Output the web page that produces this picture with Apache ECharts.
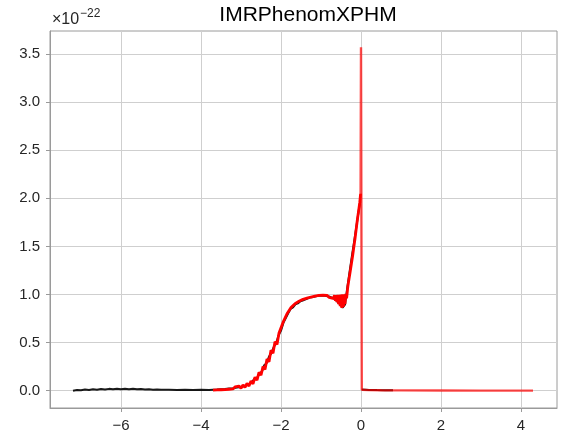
<!DOCTYPE html>
<html>
<head>
<meta charset="utf-8">
<script src="https://cdn.jsdelivr.net/npm/echarts@6/dist/echarts.min.js"></script>
<style>html,body{margin:0;padding:0;background:#fff}#c{width:568px;height:439px}</style>
</head>
<body>
<div id="c"></div>
<script>
var titleText = 'IMRPhenomXPHM';
var offsetBase = '\u00d710';
var offsetExp = '\u221222';
var xTicks = [-6, -4, -2, 0, 2, 4];
var yTicks = [0, 0.5, 1.0, 1.5, 2.0, 2.5, 3.0, 3.5];

// black waveform amplitude (×1e-22)
var blackT = [-7.20,-7.10,-7.00,-6.90,-6.80,-6.70,-6.60,-6.50,-6.40,-6.30,-6.20,-6.10,-6.00,-5.90,-5.80,-5.70,-5.60,-5.50,-5.40,-5.30,-5.20,-5.10,-5.00,-4.80,-4.60,-4.40,-4.20,-4.00,-3.80,
  -3.60,-3.50,-3.40,-3.30,-3.20,-3.10,-3.00,-2.90,-2.80,-2.72,-2.66,-2.60,-2.54,-2.48,-2.42,-2.36,-2.30,-2.24,-2.18,-2.12,-2.06,-2.00,-1.94,-1.88,-1.82,-1.76,-1.70,-1.64,-1.58,-1.52,-1.46,-1.40,-1.34,-1.28,-1.20,-1.10,-1.00,-0.90,-0.80,-0.70,-0.60,-0.52,-0.46,-0.40,-0.34,-0.28,-0.22,-0.16,-0.10,-0.05,-0.02,
  0.00, 0.02, 0.20, 0.40, 0.60, 0.80];
var blackV = [0.000,0.008,0.004,0.012,0.008,0.015,0.010,0.017,0.012,0.019,0.014,0.020,0.016,0.021,0.016,0.020,0.015,0.018,0.013,0.015,0.011,0.013,0.009,0.010,0.008,0.009,0.007,0.009,0.008,
  0.012,0.016,0.018,0.022,0.026,0.032,0.038,0.050,0.070,0.095,0.125,0.130,0.180,0.195,0.265,0.285,0.355,0.390,0.455,0.495,0.575,0.625,0.705,0.755,0.805,0.850,0.865,0.898,0.908,0.928,0.938,0.948,0.958,0.968,0.975,0.985,0.990,0.988,0.980,0.963,0.930,0.895,0.865,0.895,1.080,1.250,1.420,1.580,1.750,1.890,1.965,
  null, 0.012, 0.008, 0.006, 0.005, 0.004];

// red waveform amplitude (×1e-22)
var redT = [-3.70,-3.65,-3.60,-3.55,-3.50,-3.45,-3.40,-3.35,-3.30,-3.25,-3.20,-3.15,-3.10,-3.05,-3.00,-2.95,-2.90,-2.85,-2.80,-2.75,-2.70,-2.65,-2.60,-2.55,-2.50,-2.45,-2.40,-2.35,-2.30,-2.25,-2.20,-2.15,-2.10,-2.05,-2.00,-1.95,-1.90,-1.85,-1.80,-1.75,-1.70,-1.65,-1.60,-1.55,-1.50,-1.45,-1.40,-1.35,-1.30,-1.25,-1.20,-1.15,-1.10,-1.05,-1.00,-0.95,-0.90,-0.85,-0.80,-0.75,-0.70,
  -0.66,-0.64,-0.62,-0.60,-0.58,-0.56,-0.54,-0.52,-0.50,-0.48,-0.46,-0.44,-0.42,-0.40,-0.38,-0.36,
  -0.33,-0.30,-0.27,-0.24,-0.21,-0.18,-0.15,-0.12,-0.09,-0.06,-0.03,-0.01,0.00,0.02,0.20,0.50,1.00,2.00,3.00,4.30];
var redV = [0.006,0.018,0.008,0.022,0.010,0.025,0.012,0.030,0.015,0.034,0.018,0.040,0.020,0.048,0.026,0.060,0.034,0.075,0.048,0.100,0.070,0.140,0.110,0.190,0.160,0.250,0.220,0.330,0.300,0.420,0.390,0.510,0.480,0.600,0.580,0.710,0.690,0.800,0.780,0.865,0.850,0.905,0.885,0.930,0.910,0.950,0.932,0.962,0.946,0.974,0.958,0.984,0.968,0.992,0.975,0.994,0.975,0.992,0.970,0.990,0.960,
  0.992,0.935,0.994,0.920,0.996,0.900,0.997,0.880,0.999,0.860,1.002,0.870,1.003,0.900,1.006,0.960,
  1.080,1.160,1.240,1.320,1.400,1.490,1.580,1.680,1.780,1.870,1.960,2.050,3.570,0.010,0.006,0.004,0.003,0.002,0.001,0.001];

function pairs(t, v, from, to) {
  var out = [];
  for (var i = from; i < to; i++) out.push([t[i], v[i]]);
  return out;
}
// dense inspiral (overlapping samples look saturated) vs. sparse merger/ringdown
var splitIdx = redT.indexOf(-0.01);
function fmtMinus(v, d) {
  var s = d != null ? Math.abs(v).toFixed(d) : String(Math.abs(v));
  return (v < 0 ? '\u2212' : '') + s;
}

var FONT = 'Liberation Sans, Arial, sans-serif';
var chart = echarts.init(document.getElementById('c'), null, {renderer: 'canvas'});
var labelFont = {fontFamily: FONT, fontSize: 15, color: '#262626'};
chart.setOption({
  animation: false,
  backgroundColor: '#ffffff',
  graphic: [
    {type: 'text', silent: true, style: {text: titleText, x: 308, y: 5, textAlign: 'center', textVerticalAlign: 'top', fontFamily: FONT, fontSize: 21, fill: '#000'}},
    {type: 'text', silent: true, style: {text: offsetBase, x: 52, y: 12, textAlign: 'left', textVerticalAlign: 'top', fontFamily: FONT, fontSize: 16, fill: '#262626'}},
    {type: 'text', silent: true, style: {text: offsetExp, x: 80, y: 8, textAlign: 'left', textVerticalAlign: 'top', fontFamily: FONT, fontSize: 12, fill: '#262626'}}
  ],
  grid: {left: 50, right: 11, top: 31, bottom: 31, show: true, borderColor: '#9a9a9a', borderWidth: 1, containLabel: false},
  xAxis: {
    type: 'value', min: -7.775, max: 4.9,
    axisLine: {show: true, onZero: false, lineStyle: {color: '#9a9a9a', width: 1}},
    axisTick: {show: true, inside: false, length: 4, customValues: xTicks, lineStyle: {color: '#9a9a9a'}},
    axisLabel: Object.assign({margin: 10, customValues: xTicks, formatter: function (v) { return fmtMinus(v); }}, labelFont),
    splitLine: {show: true, lineStyle: {color: '#cfcfcf', width: 1}}
  },
  yAxis: {
    type: 'value', min: -0.18, max: 3.74,
    axisLine: {show: true, onZero: false, lineStyle: {color: '#9a9a9a', width: 1}},
    axisTick: {show: true, inside: false, length: 4, customValues: yTicks, lineStyle: {color: '#9a9a9a'}},
    axisLabel: Object.assign({margin: 10, customValues: yTicks, formatter: function (v) { return fmtMinus(v, 1); }}, labelFont),
    splitLine: {show: true, lineStyle: {color: '#cfcfcf', width: 1}}
  },
  series: [
    {type: 'line', data: pairs(blackT, blackV, 0, blackT.length), showSymbol: false, symbol: 'none', connectNulls: false,
     lineStyle: {color: '#000000', width: 2, opacity: 0.9}, z: 2},
    {type: 'line', data: pairs(redT, redV, 0, splitIdx + 1), showSymbol: false, symbol: 'none',
     lineStyle: {color: '#ff0000', width: 2.8, opacity: 1}, z: 3},
    {type: 'line', data: pairs(redT, redV, splitIdx, redT.length), showSymbol: false, symbol: 'none',
     lineStyle: {color: '#ff0000', width: 2.4, opacity: 0.7}, z: 3}
  ]
});
</script>
</body>
</html>
